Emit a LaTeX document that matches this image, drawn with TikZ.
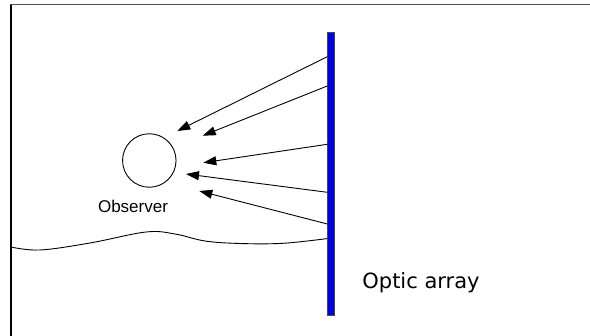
\documentclass[tikz,border=0pt]{standalone}
\usepackage{fontspec}
\setmainfont{Liberation Sans}
\newfontfamily\verdanalike{DejaVu Sans}
\usetikzlibrary{arrows.meta}
\begin{document}
\begin{tikzpicture}[x=1pt,y=-1pt,
  ray/.style={line width=0.9pt,-{Triangle[length=13pt,width=9pt]}},
  frameline/.style={line width=1.4pt}]
\useasboundingbox (0,0) rectangle (590,336);
% frame (only top and left edges visible)
\draw[frameline,draw={rgb,255:red,80;green,80;blue,80}] (10,4.7) -- (590,4.7);
\draw[frameline,draw=black] (10.8,4.7) -- (10.8,336);
% ground line
\draw[line width=0.9pt] plot[smooth,tension=0.6] coordinates {(11,247) (40,250) (90,243) (146,232) (175,234) (205,241) (240,243.5) (283,243.3) (328,238.5)};
% optic array bar
\node[draw={rgb,255:red,70;green,70;blue,70},fill={rgb,255:red,0;green,0;blue,225},line width=0.8pt,
  minimum width=7pt,minimum height=283pt,inner sep=0pt] (bar) at (331,174.3) {};
% observer
\node[draw,circle,line width=0.9pt,minimum size=53.5pt,inner sep=0pt] (obs) at (149.3,160.5) {};
\node[font=\fontsize{17}{20}\selectfont,anchor=base] (obslabel) at (133,213) {Observer};
\node[font=\verdanalike\fontsize{21}{24}\selectfont,anchor=base] (optic) at (421,288.3) {Optic array};
% rays
\coordinate (s1) at (327.3,56.7);  \coordinate (t1) at (177.3,131);
\coordinate (s2) at (327.3,86);    \coordinate (t2) at (202.7,135.7);
\coordinate (s3) at (327.3,144.3); \coordinate (t3) at (203.3,162.7);
\coordinate (s4) at (327.3,192.3); \coordinate (t4) at (186,174);
\coordinate (s5) at (327.3,224);   \coordinate (t5) at (199.3,191);
\foreach \i in {1,...,5} \draw[ray] (s\i) -- (t\i);
\end{tikzpicture}
\end{document}
